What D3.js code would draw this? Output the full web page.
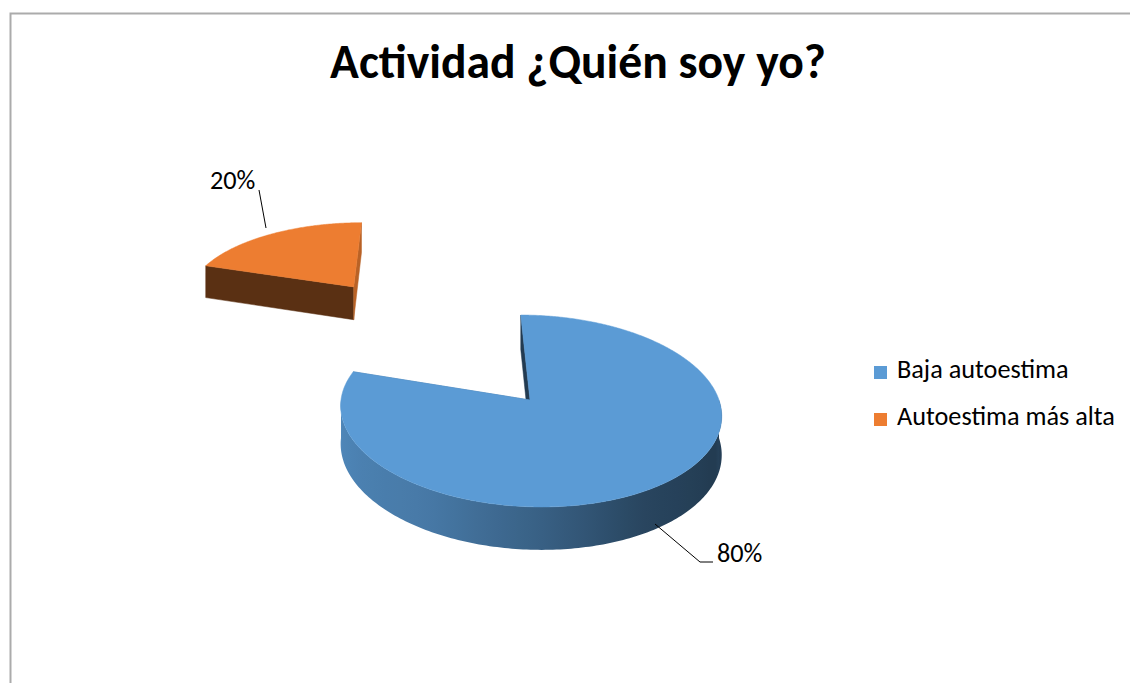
<!DOCTYPE html>
<html>
<head>
<meta charset="utf-8">
<script src="https://cdn.jsdelivr.net/npm/d3@7"></script>
<style>
  html, body { margin: 0; padding: 0; background: #fff; }
  svg { display: block; }
</style>
</head>
<body>
<svg id="chart" width="1130" height="683"></svg>
<script>
// ---- data ----
const title = "Actividad ¿Quién soy yo?";
const categories = ["Baja autoestima", "Autoestima más alta"];
const values = [80, 20];
const colors = ["#5B9BD5", "#ED7D31"];
const explode = [0, 1.71];

// ---- layout ----
const svg = d3.select("#chart");
const FONT = "Carlito, Calibri, Lato, 'Open Sans', sans-serif";
const defs = svg.append("defs");

// chart border
svg.append("rect").attr("x", 10.5).attr("y", 13.5).attr("width", 1140).attr("height", 700)
  .attr("fill", "#fff").attr("stroke", "#ababab").attr("stroke-width", 2);

// perspective projection of the 3D pie
const cx = 530, cy = 400, S = 189, ST = 94.7, K = 0.1146, VX = 440, DEPTH = 38;
function proj(u, v, bottom) {
  const den = 1 + K * v;
  const X = cx + S * u;
  return [VX + (X - VX) / den, cy - ST * v / den + (bottom ? DEPTH / den : 0)];
}
const deg = Math.PI / 180;
const shadeOuter = d3.scaleLinear().domain([90, 117, 152, 180, 212, 270]).range([0.42, 0.38, 0.45, 0.62, 0.78, 0.88]).clamp(true);
function darken(c, f) { const r = d3.rgb(c); return d3.rgb(r.r * f, r.g * f, r.b * f).formatHex(); }

const pie = d3.pie().sort(null).startAngle(0).endAngle(2 * Math.PI);
const arcs = pie(values).map((d, i) => {
  const mid = (d.startAngle + d.endAngle) / 2;
  return Object.assign(d, { i, ou: explode[i] * Math.sin(mid), ov: explode[i] * Math.cos(mid) });
});
const line = d3.line();

// draw back slices first
const order = arcs.slice().sort((a, b) => b.ov - a.ov);
const g = svg.append("g");
order.forEach(d => {
  const pt = (a, bottom) => proj(d.ou + Math.sin(a), d.ov + Math.cos(a), bottom);
  const apexT = proj(d.ou, d.ov, false), apexB = proj(d.ou, d.ov, true);
  const base = colors[d.i];
  // radial faces
  [[d.startAngle, d.startAngle / deg - 90], [d.endAngle, d.endAngle / deg + 90]].forEach(([a, nrm]) => {
    const n = ((nrm % 360) + 360) % 360;
    const f = (n > 0 && n < 180) ? 0.78 : 0.38;
    g.append("path").attr("d", line([apexT, pt(a, false), pt(a, true), apexB]) + "Z")
      .attr("fill", darken(base, f)).attr("stroke", darken(base, f)).attr("stroke-width", 0.5);
  });
  // outer face (front half only), shaded with a gradient along x
  const a0 = Math.max(d.startAngle, 90 * deg), a1 = Math.min(d.endAngle, 270 * deg);
  if (a1 > a0) {
    const steps = Math.ceil((a1 - a0) / deg);
    const topArc = [], botArc = [];
    for (let s = 0; s <= steps; s++) {
      const b = a0 + (a1 - a0) * s / steps;
      topArc.push(pt(b, false)); botArc.push(pt(b, true));
    }
    const xs = topArc.map(p => p[0]);
    const xMin = d3.min(xs), xMax = d3.max(xs);
    const gid = "side" + d.i;
    const grad = defs.append("linearGradient").attr("id", gid).attr("gradientUnits", "userSpaceOnUse")
      .attr("x1", xMin).attr("x2", xMax).attr("y1", 0).attr("y2", 0);
    const stops = [];
    for (let s = steps; s >= 0; s -= 6) {
      const b = a0 + (a1 - a0) * s / steps;
      stops.push([(pt(b, false)[0] - xMin) / (xMax - xMin), darken(base, shadeOuter(b / deg))]);
    }
    stops.sort((p, q) => p[0] - q[0]).forEach(s => grad.append("stop").attr("offset", s[0]).attr("stop-color", s[1]));
    g.append("path").attr("d", line(topArc.concat(botArc.reverse())) + "Z").attr("fill", `url(#${gid})`);
  }
  // top face
  const topPts = [apexT];
  const n = Math.ceil((d.endAngle - d.startAngle) / deg) * 2;
  for (let s = 0; s <= n; s++) topPts.push(pt(d.startAngle + (d.endAngle - d.startAngle) * s / n, false));
  g.append("path").attr("d", line(topPts) + "Z").attr("fill", base)
    .attr("stroke", base).attr("stroke-width", 0.5);
});

// title
const t = svg.append("text").attr("x", 578).attr("y", 78).attr("text-anchor", "middle")
  .attr("font-family", FONT).attr("font-weight", "bold").attr("font-size", 40).attr("fill", "#000").text(title);
t.attr("font-size", 40 * 496 / t.node().getComputedTextLength());

// legend
const leg = svg.append("g");
categories.forEach((c, i) => {
  leg.append("rect").attr("x", 874).attr("y", 366 + i * 47).attr("width", 13).attr("height", 13).attr("fill", colors[i]);
  leg.append("text").attr("class", "lbl").attr("x", 897).attr("y", 378 + i * 47)
    .attr("font-family", FONT).attr("font-size", 24).attr("fill", "#000").text(c);
});
const ref = leg.selectAll("text.lbl").nodes()[1];
const fs = 24 * 218 / ref.getComputedTextLength();

// data labels with leader lines
const total = d3.sum(values);
const labelPos = [[717, 562], [210, 189]];
const leaders = [[[655, 524], [700, 562], [713, 562]], [[266, 228], [259, 190]]];
values.forEach((v, i) => {
  svg.append("path").attr("d", line(leaders[i])).attr("fill", "none").attr("stroke", "#000").attr("stroke-width", 1);
  svg.append("text").attr("class", "lbl").attr("x", labelPos[i][0]).attr("y", labelPos[i][1])
    .attr("font-family", FONT).attr("font-size", 24).attr("fill", "#000")
    .text(Math.round(v / total * 100) + "%");
});
svg.selectAll("text.lbl").attr("font-size", fs);
</script>
</body>
</html>
